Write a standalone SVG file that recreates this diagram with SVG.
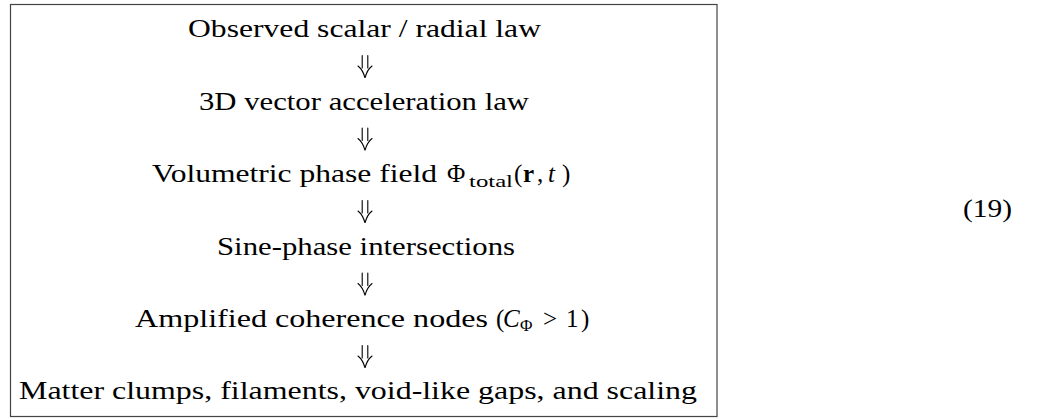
<svg xmlns="http://www.w3.org/2000/svg" width="1039" height="419" viewBox="0 0 1039 419">
<style>
.t{font-family:"Liberation Serif","Times New Roman",serif;font-size:25px;fill:#000}
.s{font-size:17px}
.i{font-style:italic}
.b{font-weight:bold}
.arr{fill:none;stroke:#000;stroke-width:1.1;stroke-linecap:round}
</style>
<defs>
<path id="dn" class="arr" d="M-2.8,-17.4V-5M2.8,-17.4V-5M-7,-7Q-2,-3 0,4.9Q2,-3 7,-7"/>
</defs>
<rect x="10.5" y="4.5" width="706.5" height="412" fill="#fff" stroke="#444" stroke-width="1.2"/>
<g id="n1"><text class="t" x="188" y="37" textLength="353" lengthAdjust="spacingAndGlyphs">Observed scalar / radial law</text></g>
<g id="n2"><text class="t" x="199" y="109.5" textLength="330" lengthAdjust="spacingAndGlyphs">3D vector acceleration law</text></g>
<g id="n3"><text class="t" y="182"><tspan x="152" textLength="285" lengthAdjust="spacingAndGlyphs">Volumetric phase field</tspan><tspan x="447">Φ</tspan><tspan class="s" x="469" y="187" textLength="44" lengthAdjust="spacingAndGlyphs">total</tspan><tspan x="514" y="182">(</tspan><tspan class="b" x="523">r</tspan><tspan x="537">,</tspan><tspan class="i" x="548">t</tspan><tspan x="562">)</tspan></text></g>
<g id="n4"><text class="t" x="217" y="254.5" textLength="298" lengthAdjust="spacingAndGlyphs">Sine-phase intersections</text></g>
<g id="n5"><text class="t" y="327"><tspan x="135" textLength="353" lengthAdjust="spacingAndGlyphs">Amplified coherence nodes</tspan><tspan x="496">(</tspan><tspan class="i" x="503">C</tspan><tspan class="s" x="520" y="331">Φ</tspan><tspan x="543" y="327">&gt;</tspan><tspan x="566">1</tspan><tspan x="581">)</tspan></text></g>
<g id="n6"><text class="t" x="19" y="399" textLength="678" lengthAdjust="spacingAndGlyphs">Matter clumps, filaments, void-like gaps, and scaling</text></g>
<g id="eq"><text class="t" x="963" y="217" textLength="49" lengthAdjust="spacingAndGlyphs">(19)</text></g>
<g id="connectors">
<use href="#dn" x="365" y="73"/>
<use href="#dn" x="365" y="145.5"/>
<use href="#dn" x="365" y="218"/>
<use href="#dn" x="365" y="290.5"/>
<use href="#dn" x="365" y="363"/>
</g>
</svg>
